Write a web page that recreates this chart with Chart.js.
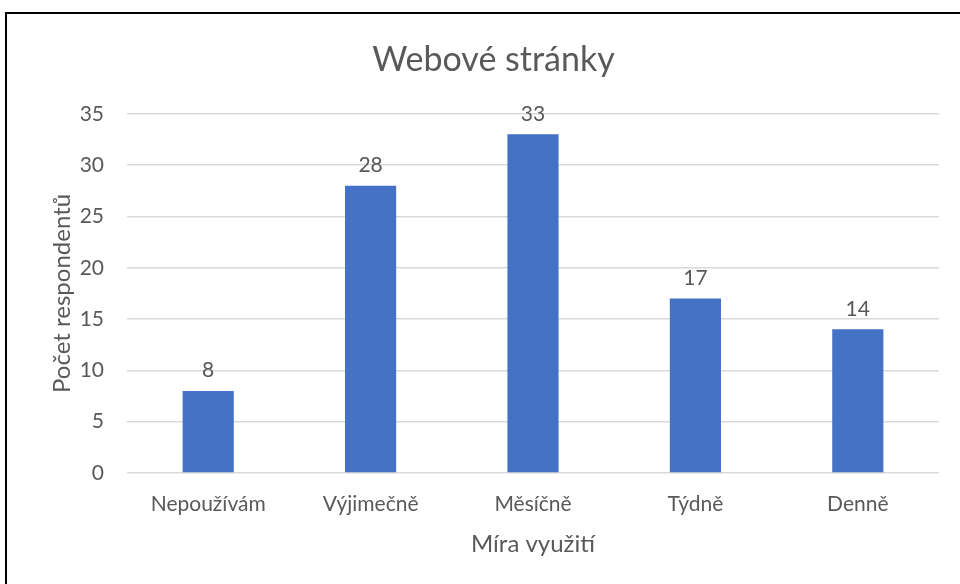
<!DOCTYPE html>
<html>
<head>
<meta charset="utf-8">
<script src="https://cdn.jsdelivr.net/npm/chart.js@4.4.1/dist/chart.umd.min.js"></script>
<style>
    html, body { margin: 0; padding: 0; background: #fff; overflow: hidden; }
    #wrap { position: relative; width: 960px; height: 584px; }
    #frame { position: absolute; left: 5px; top: 12px; width: 1000px; height: 1000px; border: 2px solid #000; box-sizing: border-box; }
    canvas { position: absolute; left: 0; top: 0; }
</style>
</head>
<body>
<div id="wrap">
    <div id="frame"></div>
    <canvas id="WebChart" width="960" height="584"></canvas>
</div>
<script>
const categories = ['Nepoužívám', 'Výjimečně', 'Měsíčně', 'Týdně', 'Denně'];
const respondents = [8, 28, 33, 17, 14];
const yTicks = [0, 5, 10, 15, 20, 25, 30, 35];

const textColor = '#595959';
const fontName = 'Lato, "Open Sans", sans-serif';

// value labels above each bar
const barLabels = {
    id: 'barLabels',
    afterDatasetsDraw(chart) {
        const ctx = chart.ctx;
        const meta = chart.getDatasetMeta(0);
        ctx.save();
        ctx.fillStyle = textColor;
        ctx.font = '21px ' + fontName;
        ctx.textAlign = 'center';
        ctx.textBaseline = 'bottom';
        meta.data.forEach(function (bar, i) {
            ctx.fillText(chart.data.datasets[0].data[i], bar.x, bar.y - 10);
        });
        ctx.restore();
    }
};

new Chart(document.getElementById('WebChart'), {
    type: 'bar',
    data: {
        labels: categories,
        datasets: [
            {
                data: respondents,
                backgroundColor: '#4472C4',
                categoryPercentage: 1,
                barPercentage: 0.315
            }
        ]
    },
    options: {
        responsive: false,
        animation: false,
        layout: {
            padding: { left: 48, right: 21, top: 0, bottom: 25 }
        },
        plugins: {
            legend: { display: false },
            tooltip: { enabled: false },
            title: {
                display: true,
                text: 'Webové stránky',
                color: textColor,
                font: { family: fontName, size: 34, weight: 'normal' },
                padding: { top: 40, bottom: 33 }
            }
        },
        scales: {
            x: {
                grid: { display: false, drawTicks: false },
                border: { display: false },
                ticks: {
                    color: textColor,
                    font: { family: fontName, size: 21 },
                    padding: 19
                },
                title: {
                    display: true,
                    text: 'Míra využití',
                    color: textColor,
                    font: { family: fontName, size: 24 },
                    padding: { top: 10, bottom: 0 }
                },
                afterFit(scale) { scale.height = 86; }
            },
            y: {
                min: 0,
                max: 35,
                afterBuildTicks(scale) {
                    scale.ticks = yTicks.map(v => ({ value: v }));
                },
                grid: { color: '#D9D9D9', lineWidth: 1.5, drawTicks: false },
                border: { display: false },
                ticks: {
                    color: textColor,
                    font: { family: fontName, size: 21 },
                    padding: 23
                },
                title: {
                    display: true,
                    text: 'Počet respondentů',
                    color: textColor,
                    font: { family: fontName, size: 24 },
                    padding: { top: 0, bottom: 10 }
                },
                afterFit(scale) { scale.width = 79; }
            }
        }
    },
    plugins: [barLabels]
});
</script>
</body>
</html>
